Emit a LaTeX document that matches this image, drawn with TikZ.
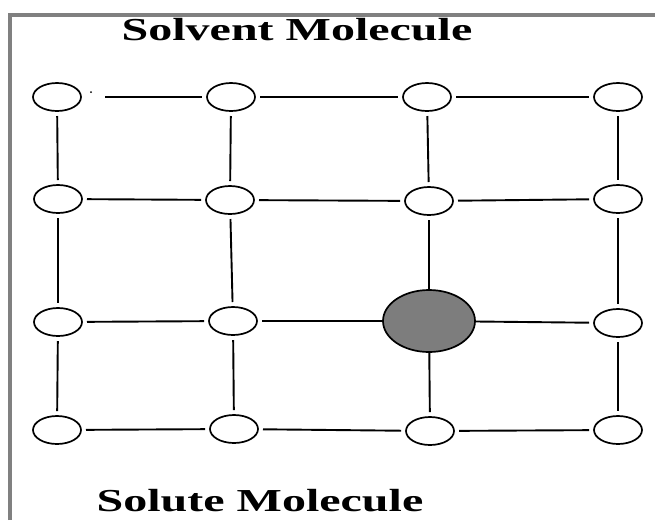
\documentclass[tikz,border=0pt]{standalone}
\usepackage{fontspec}
\setmainfont{Liberation Serif}
\usetikzlibrary{shapes.geometric}
\definecolor{framegray}{RGB}{128,128,128}
\definecolor{solutegray}{RGB}{125,125,125}
\begin{document}
\begin{tikzpicture}[x=1pt,y=-1pt,
  mol/.style={ellipse,draw,line width=1.7pt,minimum width=48pt,minimum height=28pt,inner sep=0pt,outer sep=5pt},
  bigmol/.style={ellipse,draw,line width=1.7pt,fill=solutegray,minimum width=92pt,minimum height=62pt,inner sep=0pt,outer sep=0pt},
  bond/.style={line width=1.9pt},
  title/.style={anchor=base,inner sep=0pt}]
\useasboundingbox (0,0) rectangle (655,520);
\draw[line width=4pt,color=framegray] (9.5,520) -- (9.5,14.5) -- (655,14.5);

\node[title] (solvent) at (297,40) {\scalebox{1.5}[1]{\fontsize{32}{32}\selectfont\bfseries Solvent Molecule}};
\node[title] (solute) at (260,511) {\scalebox{1.5}[1]{\fontsize{32}{32}\selectfont\bfseries Solute Molecule}};

% row 1
\node[mol] (a11) at (57,97) {};
\node[mol] (a12) at (231,97) {};
\node[mol] (a13) at (427,97) {};
\node[mol] (a14) at (618,97) {};
% row 2
\node[mol] (a21) at (58,199) {};
\node[mol] (a22) at (230,200) {};
\node[mol] (a23) at (429,201) {};
\node[mol] (a24) at (618,199) {};
% row 3
\node[mol] (a31) at (58,322) {};
\node[mol] (a32) at (233,321) {};
\node[bigmol] (s) at (429,321) {};
\node[mol] (a34) at (618,323) {};
% row 4
\node[mol] (a41) at (57,430) {};
\node[mol] (a42) at (234,429) {};
\node[mol] (a43) at (430,431) {};
\node[mol] (a44) at (618,430) {};

\fill (91,92) circle (1pt);

% horizontal bonds
\draw[bond,shorten <=19pt] (a11) -- (a12);
\draw[bond] (a12) -- (a13);
\draw[bond] (a13) -- (a14);
\draw[bond] (a21) -- (a22);
\draw[bond] (a22) -- (a23);
\draw[bond] (a23) -- (a24);
\draw[bond] (a31) -- (a32);
\draw[bond] (a32) -- (s);
\draw[bond] (s) -- (a34);
\draw[bond] (a41) -- (a42);
\draw[bond] (a42) -- (a43);
\draw[bond] (a43) -- (a44);
% vertical bonds
\draw[bond] (a11) -- (a21);
\draw[bond] (a21) -- (a31);
\draw[bond] (a31) -- (a41);
\draw[bond] (a12) -- (a22);
\draw[bond] (a22) -- (a32);
\draw[bond] (a32) -- (a42);
\draw[bond] (a13) -- (a23);
\draw[bond] (a23) -- (s);
\draw[bond] (s) -- (a43);
\draw[bond] (a14) -- (a24);
\draw[bond] (a24) -- (a34);
\draw[bond] (a34) -- (a44);
\end{tikzpicture}
\end{document}
